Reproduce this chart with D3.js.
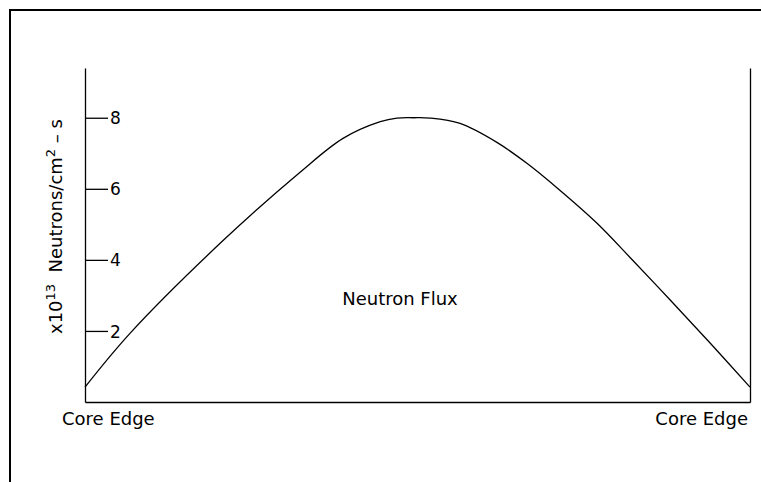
<!DOCTYPE html>
<html lang="en">
<head>
  <meta charset="UTF-8">
  <title>Neutron Flux</title>
  <script src="https://d3js.org/d3.v7.min.js"></script>
  <style>
    body { margin: 0; background: #fff; }
    svg { display: block; font-family: "DejaVu Sans", sans-serif; }
    .axis path, .axis line { stroke: #000; stroke-width: 1.3px; }
    .axis text { font-size: 17px; fill: #000; font-family: "DejaVu Sans", sans-serif; }
    .flux { fill: none; stroke: #000; stroke-width: 1.3px; }
    .label { font-size: 18px; fill: #000; }
  </style>
</head>
<body>
  <svg width="761" height="482"></svg>

  <script>
    // position across the core, 0 = one edge, 100 = the other
    const position = [0, 6.8, 20.8, 32.3, 38.8, 44.4, 46.9, 49.4, 51.9, 56.4, 62.0, 66.5, 71.4, 77.0, 82.0, 88.0, 94.0, 100];
    // flux, x10^13 neutrons/cm^2-s
    const flux = [0.42, 1.94, 4.55, 6.46, 7.42, 7.89, 7.99, 8.0, 7.99, 7.84, 7.30, 6.71, 5.96, 5.03, 4.06, 2.87, 1.66, 0.42];
    const yTicks = [2, 4, 6, 8];
    const edgeLabel = "Core Edge";

    const svg = d3.select("svg");

    // frame (top and left edges only)
    svg.append("path")
        .attr("d", "M10,482V10H761")
        .attr("fill", "none")
        .attr("stroke", "#000")
        .attr("stroke-width", 2);

    const x = d3.scaleLinear().domain([0, 100]).range([85, 750]);
    const y = d3.scaleLinear().domain([0, 9.4]).range([402, 68]);

    // left axis, ticks pointing inward
    svg.append("g")
        .attr("class", "axis")
        .attr("transform", `translate(${x(0)},0)`)
        .call(d3.axisRight(y).tickValues(yTicks).tickSize(23).tickSizeOuter(0).tickPadding(2))
        .call(g => g.selectAll("text").attr("dy", "0.36em"));

    // bottom and right lines
    svg.append("g")
        .attr("class", "axis")
        .attr("transform", `translate(0,${y(0)})`)
        .call(d3.axisBottom(x).tickValues([]).tickSizeOuter(0));

    svg.append("g")
        .attr("class", "axis")
        .attr("transform", `translate(${x(100)},0)`)
        .call(d3.axisLeft(y).tickValues([]).tickSizeOuter(0));

    const line = d3.line()
        .x((d, i) => x(position[i]))
        .y(d => y(d))
        .curve(d3.curveCatmullRom.alpha(0.5));

    svg.append("path")
        .datum(flux)
        .attr("class", "flux")
        .attr("d", line);

    svg.append("text")
        .attr("class", "label")
        .attr("x", 400)
        .attr("y", 305)
        .attr("text-anchor", "middle")
        .text("Neutron Flux");

    svg.append("text")
        .attr("class", "label")
        .attr("x", 62)
        .attr("y", 425)
        .text(edgeLabel);

    svg.append("text")
        .attr("class", "label")
        .attr("x", 748)
        .attr("y", 425)
        .attr("text-anchor", "end")
        .text(edgeLabel);

    // rotated y label with superscripts
    const yl = svg.append("text")
        .attr("class", "label")
        .attr("font-size", 17)
        .attr("transform", "translate(62,334) rotate(-90)");
    yl.append("tspan").text("x10");
    yl.append("tspan").attr("font-size", 13).attr("dy", -7).text("13");
    yl.append("tspan").attr("dy", 7).text("\u00a0 Neutrons/cm");
    yl.append("tspan").attr("font-size", 13).attr("dy", -7).text("2");
    yl.append("tspan").attr("dy", 7).text("\u00a0\u2013\u00a0s");
  </script>
</body>
</html>
